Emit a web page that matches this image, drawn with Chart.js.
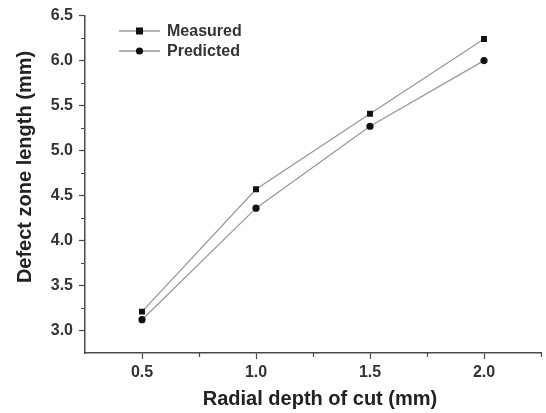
<!DOCTYPE html>
<html>
<head>
<meta charset="utf-8">
<script src="https://cdn.jsdelivr.net/npm/chart.js@4"></script>
<style>
  html, body { margin: 0; padding: 0; background: #fff; }
  #wrap { width: 546px; height: 413px; }
</style>
</head>
<body>
<div id="wrap"><canvas id="chart" width="546" height="413"></canvas></div>
<script>
// data
const depths = [0.5, 1.0, 1.5, 2.0];
const measured = [3.21, 4.57, 5.41, 6.24];
const predicted = [3.12, 4.36, 5.27, 6.0];
const xTicks = [0.5, 1.0, 1.5, 2.0];
const yTicks = [3.0, 3.5, 4.0, 4.5, 5.0, 5.5, 6.0, 6.5];
const xMinor = [0.75, 1.25, 1.75, 2.25];
const yMinor = [3.25, 3.75, 4.25, 4.75, 5.25, 5.75, 6.25];
const seriesNames = ['Measured', 'Predicted'];
const xTitle = 'Radial depth of cut (mm)';
const yTitle = 'Defect zone length (mm)';

const FONT = 'Liberation Sans, Arial, sans-serif';
const AXIS = '#4a4a4a';
const TEXT = '#333333';

// minor ticks, legend and axis titles drawn by hand
const extras = {
  id: 'extras',
  afterDraw(chart) {
    const ctx = chart.ctx;
    const xs = chart.scales.x, ys = chart.scales.y;
    ctx.save();
    ctx.strokeStyle = AXIS;
    ctx.lineWidth = 1.2;
    ctx.beginPath();
    xMinor.forEach(v => {
      const px = Math.round(xs.getPixelForValue(v)) + 0.5;
      ctx.moveTo(px, ys.bottom);
      ctx.lineTo(px, ys.bottom + 4);
    });
    yMinor.forEach(v => {
      const py = Math.round(ys.getPixelForValue(v)) + 0.5;
      ctx.moveTo(xs.left, py);
      ctx.lineTo(xs.left - 4, py);
    });
    ctx.stroke();

    // legend
    const lx = 119, ly = [31, 51];
    chart.data.datasets.forEach((ds, i) => {
      ctx.strokeStyle = '#999';
      ctx.lineWidth = 1.3;
      ctx.beginPath();
      ctx.moveTo(lx, ly[i]);
      ctx.lineTo(lx + 41, ly[i]);
      ctx.stroke();
      ctx.fillStyle = '#111';
      if (i === 0) {
        ctx.fillRect(lx + 17, ly[i] - 3.5, 7, 7);
      } else {
        ctx.beginPath();
        ctx.arc(lx + 20.5, ly[i], 3.6, 0, Math.PI * 2);
        ctx.fill();
      }
      ctx.fillStyle = TEXT;
      ctx.font = 'bold 16px ' + FONT;
      ctx.textBaseline = 'middle';
      ctx.textAlign = 'left';
      ctx.fillText(ds.label, lx + 48, ly[i] + 1);
    });

    // axis titles
    ctx.fillStyle = '#222';
    ctx.font = 'bold 20px ' + FONT;
    ctx.textAlign = 'center';
    ctx.textBaseline = 'middle';
    ctx.fillText(xTitle, 320, 399);
    ctx.translate(25, 167);
    ctx.rotate(-Math.PI / 2);
    ctx.fillText(yTitle, 0, 0);
    ctx.restore();
  }
};

new Chart(document.getElementById('chart'), {
  type: 'line',
  data: {
    datasets: [
      {
        label: seriesNames[0],
        data: depths.map((d, i) => ({ x: d, y: measured[i] })),
        borderColor: '#999',
        borderWidth: 1.3,
        pointStyle: 'rect',
        pointRadius: 4.2,
        pointBackgroundColor: '#111',
        pointBorderColor: '#111',
        pointBorderWidth: 0
      },
      {
        label: seriesNames[1],
        data: depths.map((d, i) => ({ x: d, y: predicted[i] })),
        borderColor: '#999',
        borderWidth: 1.3,
        pointStyle: 'circle',
        pointRadius: 3.6,
        pointBackgroundColor: '#111',
        pointBorderColor: '#111',
        pointBorderWidth: 0
      }
    ]
  },
  options: {
    responsive: false,
    animation: false,
    layout: { padding: { top: 14, right: 5, left: 0, bottom: 0 } },
    plugins: { legend: { display: false }, tooltip: { enabled: false } },
    scales: {
      x: {
        type: 'linear',
        min: 0.25,
        max: 2.25,
        afterBuildTicks: s => { s.ticks = xTicks.map(v => ({ value: v })); },
        afterFit: s => { s.height = 60; },
        grid: { drawOnChartArea: false, tickLength: 6, tickColor: AXIS, tickWidth: 1.2 },
        border: { color: AXIS, width: 1.5 },
        ticks: {
          color: TEXT,
          padding: 4,
          maxRotation: 0,
          font: { family: FONT, size: 16, weight: 'bold' },
          callback: v => v.toFixed(1)
        }
      },
      y: {
        min: 2.75,
        max: 6.5,
        afterBuildTicks: s => { s.ticks = yTicks.map(v => ({ value: v })); },
        afterFit: s => { s.width = 85; },
        grid: { drawOnChartArea: false, tickLength: 6, tickColor: AXIS, tickWidth: 1.2 },
        border: { color: AXIS, width: 1.5 },
        ticks: {
          color: TEXT,
          padding: 6,
          font: { family: FONT, size: 16, weight: 'bold' },
          callback: v => v.toFixed(1)
        }
      }
    }
  },
  plugins: [extras]
});
</script>
</body>
</html>
